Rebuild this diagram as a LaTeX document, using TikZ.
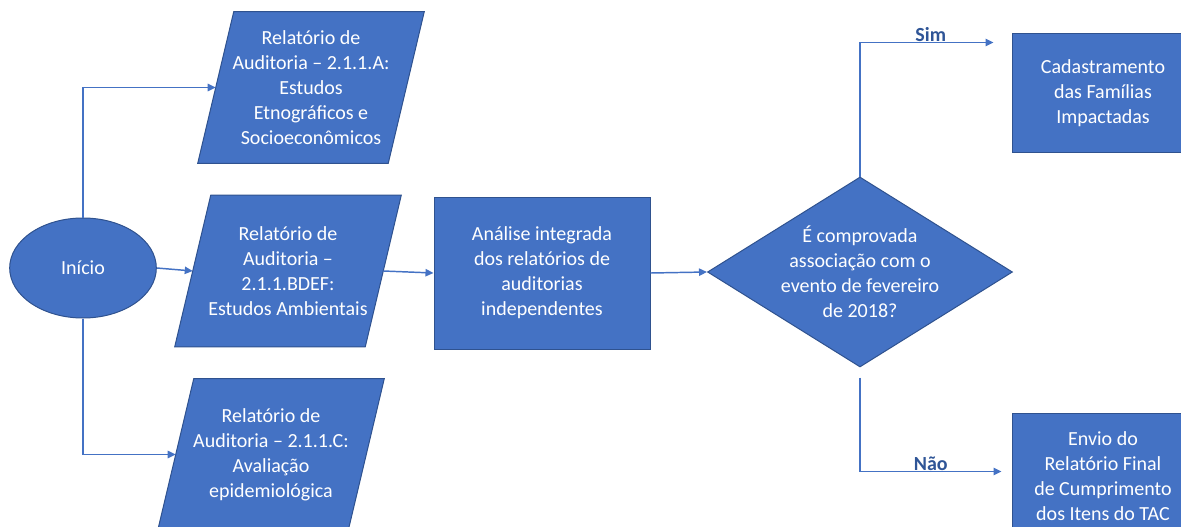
\documentclass[tikz,border=0pt]{standalone}
\usepackage{fontspec}
\setmainfont{Carlito}
\usetikzlibrary{shapes.geometric,arrows.meta,calc,backgrounds}
\definecolor{boxblue}{HTML}{4472C4}
\definecolor{boxedge}{HTML}{2F528F}
\definecolor{lblblue}{HTML}{2F5597}
% slanted input/output box drawn behind the text node #1
\newcommand*{\ioback}[1]{\begin{pgfonlayer}{background}
  \draw[draw=boxedge,fill=boxblue,line width=0.75pt]
    ($(#1.south west)+(-18,0)$) -- ($(#1.south east)+(-18,0)$)
    -- ($(#1.north east)+(18,0)$) -- ($(#1.north west)+(18,0)$) -- cycle;
\end{pgfonlayer}}

\begin{document}
\begin{tikzpicture}[x=0.75pt,y=0.75pt]
\tikzstyle{box}=[draw=boxedge,fill=boxblue,text=white,font=\fontsize{15}{18.75}\selectfont,align=center,inner sep=0pt,line width=0.75pt]
\tikzstyle{io}=[text=white,font=\fontsize{15}{18.75}\selectfont,align=center,inner sep=0pt,minimum width=142.5pt,minimum height=113.25pt]
\tikzstyle{flow}=[draw=boxblue,line width=1.1pt,-{Triangle[length=6pt,width=5.5pt]}]
\tikzstyle{answer}=[text=lblblue,font=\bfseries\fontsize{15}{18}\selectfont,inner sep=0pt]
\useasboundingbox (0,0) rectangle (1181,526);

% start and the three audit reports
\node[box,ellipse,minimum width=110pt,minimum height=75pt] (ini) at (83,258) {Início};
\node[io] (rela) at (311,438.5) {Relatório de\\Auditoria – 2.1.1.A:\\Estudos\\Etnográficos e\\Socioeconômicos};
\node[io] (relb) at (288,255) {Relatório de\\Auditoria –\\2.1.1.BDEF:\\Estudos Ambientais};
\node[io] (relc) at (271,71.5) {Relatório de\\Auditoria – 2.1.1.C:\\Avaliação\\epidemiológica};
\ioback{rela}
\ioback{relb}
\ioback{relc}

% analysis and decision
\node[box,minimum width=162pt,minimum height=114pt] (ana) at (542,253) {Análise integrada\\dos relatórios de\\auditorias\\independentes};
\node[box,diamond,aspect=1.6,minimum width=228.75pt,minimum height=142.5pt,inner sep=-3pt] (dec) at (860,254) {É comprovada\\associação com o\\evento de fevereiro\\de 2018?};

% outcomes
\node[box,minimum width=136.5pt,minimum height=88.5pt] (cad) at (1103,433) {Cadastramento\\das Famílias\\Impactadas};
\node[box,minimum width=136.5pt,minimum height=95.25pt] (env) at (1103,49.5) {Envio do\\Relatório Final\\de Cumprimento\\dos Itens do TAC};

\coordinate (simend) at ($(cad.north west)+(-18,-9)$);
\coordinate (naostart) at ($(dec.south)+(0,-10)$);
\coordinate (naoend) at ($(env.north west)+(-10,-59)$);

\draw[flow] (ini.north) |- (rela.west);
\draw[flow] (ini.east) -- (relb.west);
\draw[flow] (ini.south) |- (relc.west);

\draw[flow] (relb.east) -- (ana.west);
\draw[flow] (ana.east) -- (dec.west);

\draw[flow] (dec.north) |- node[answer,above,pos=0.765] {Sim} (simend);
\draw[flow] (naostart) |- node[answer,above,pos=0.75] {Não} (naoend);

\end{tikzpicture}
\end{document}
